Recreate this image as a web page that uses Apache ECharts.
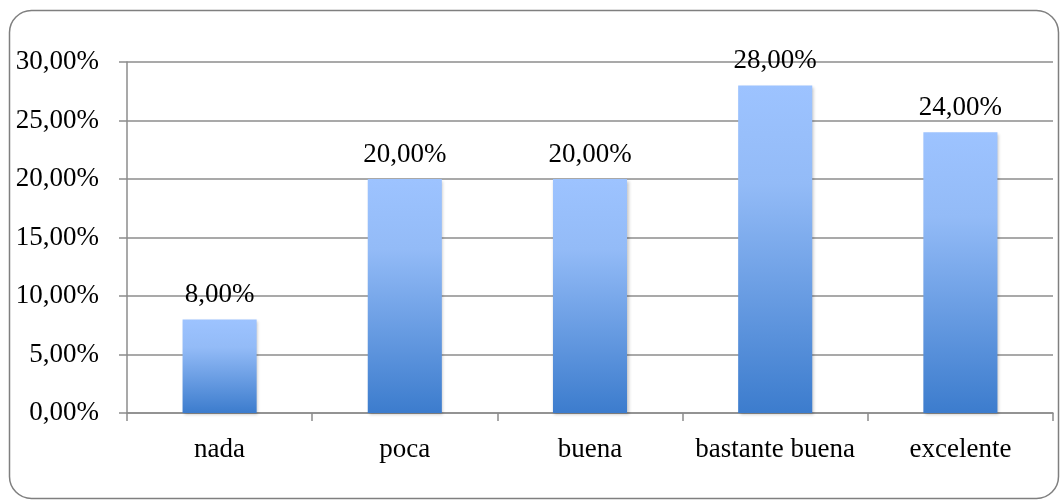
<!DOCTYPE html>
<html>
<head>
<meta charset="utf-8">
<script src="https://cdn.jsdelivr.net/npm/echarts@6/dist/echarts.min.js"></script>
<style>
  html, body { margin: 0; padding: 0; background: #fff; }
  #chart { width: 1061px; height: 501px; }
</style>
</head>
<body>
<div id="chart"></div>
<script>
// Valoración: share of answers per category (percent)
const categories = ['nada', 'poca', 'buena', 'bastante buena', 'excelente'];
const values = [8, 20, 20, 28, 24];
const yMin = 0;
const yMax = 30;
const yStep = 5;

const fmtPct = v => v.toFixed(2).replace('.', ',') + '%';
const FONT = 'Liberation Serif';
const FSIZE = 27;
const LINE = '#8c8c8c';

const chart = echarts.init(document.getElementById('chart'), null, { renderer: 'canvas' });

chart.setOption({
  animation: false,
  backgroundColor: '#ffffff',
  graphic: [{
    type: 'rect',
    shape: { x: 9.5, y: 10.5, width: 1049, height: 488, r: 22 },
    style: { fill: 'none', stroke: '#7f7f7f', lineWidth: 1.5 },
    silent: true,
    z: -1
  }],
  grid: { left: 127, right: 8, top: 62, bottom: 88, containLabel: false },
  xAxis: {
    type: 'category',
    data: categories,
    axisLine: { show: true, lineStyle: { color: LINE, width: 1.5 } },
    axisTick: { show: true, interval: 0, length: 8, lineStyle: { color: LINE, width: 1.5 } },
    axisLabel: { interval: 0, color: '#000', fontFamily: FONT, fontSize: FSIZE, margin: 23 }
  },
  yAxis: {
    type: 'value',
    min: yMin,
    max: yMax,
    interval: yStep,
    axisLine: { show: true, lineStyle: { color: LINE, width: 1.5 } },
    axisTick: { show: true, length: 8, lineStyle: { color: LINE, width: 1.5 } },
    splitLine: { show: true, lineStyle: { color: LINE, width: 1.5 } },
    axisLabel: { color: '#000', fontFamily: FONT, fontSize: FSIZE, margin: 28, formatter: fmtPct }
  },
  series: [{
    type: 'bar',
    data: values,
    barWidth: '40%',
    itemStyle: {
      color: new echarts.graphic.LinearGradient(0, 0, 0, 1, [
        { offset: 0, color: '#9dc3ff' },
        { offset: 0.3, color: '#93bbf7' },
        { offset: 1, color: '#3c7ccd' }
      ]),
      shadowColor: 'rgba(0,0,0,0.22)',
      shadowBlur: 3,
      shadowOffsetX: 1.5,
      shadowOffsetY: 1.5
    },
    label: {
      show: true,
      position: 'top',
      distance: 11,
      color: '#000',
      fontFamily: FONT,
      fontSize: FSIZE,
      formatter: p => fmtPct(p.value)
    }
  }]
});
</script>
</body>
</html>
